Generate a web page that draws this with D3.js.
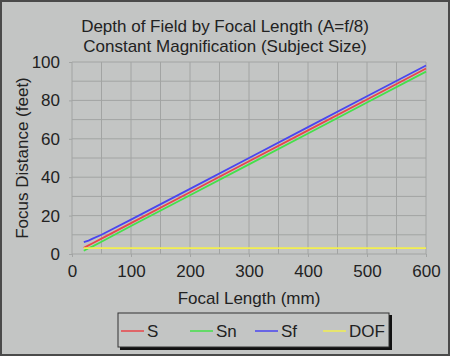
<!DOCTYPE html>
<html><head><meta charset="utf-8">
<script src="https://cdn.jsdelivr.net/npm/d3@7"></script>
<style>html,body{margin:0;padding:0;background:#c3c5c4;}svg{display:block;}</style>
</head><body>
<script>
const focal = [20, 28, 35, 50, 100, 200, 300, 400, 500, 600];
const S   = [3.2, 4.5, 5.6, 8.0, 16.1, 32.2, 48.3, 64.4, 80.5, 96.6];
const Sn  = [1.7, 3.0, 4.0, 6.4, 14.6, 30.6, 46.7, 62.8, 78.9, 95.0];
const Sf  = [6.2, 7.0, 8.0, 10.0, 17.9, 33.9, 50.0, 66.1, 82.2, 98.2];
const DOF = [3.1, 3.1, 3.1, 3.1, 3.1, 3.1, 3.1, 3.1, 3.1, 3.1];
const seriesNames = ["S", "Sn", "Sf", "DOF"];
const seriesColors = ["#e8454a", "#45e04a", "#4a45f0", "#f2ee50"];
const xTicks = [0, 100, 200, 300, 400, 500, 600];
const yTicks = [0, 20, 40, 60, 80, 100];
const titleLines = ["Depth of Field by Focal Length (A=f/8)", "Constant Magnification (Subject Size)"];

const W = 450, H = 356;
const font = "'Liberation Sans', Arial, sans-serif";
const svg = d3.select("body").append("svg").attr("width", W).attr("height", H);
svg.append("rect").attr("x",1).attr("y",1).attr("width",W-2).attr("height",H-2)
  .attr("fill","#c3c5c4").attr("stroke","#4a4a4a").attr("stroke-width",2);

const x = d3.scaleLinear().domain([0,600]).range([72,426]);
const y = d3.scaleLinear().domain([0,100]).range([254,62]);

// grid
const g = svg.append("g");
g.selectAll(".vg").data(d3.range(0,601,50)).join("line")
  .attr("x1",d=>x(d)).attr("x2",d=>x(d)).attr("y1",y(100)).attr("y2",y(0))
  .attr("stroke","#a2a4a3").attr("stroke-width",1);
g.selectAll(".hg").data(d3.range(0,101,10)).join("line")
  .attr("x1",x(0)).attr("x2",x(600)).attr("y1",d=>y(d)).attr("y2",d=>y(d))
  .attr("stroke","#a2a4a3").attr("stroke-width",1);

// axes
const xAxis = d3.axisBottom(x).tickValues(xTicks).tickSize(3).tickPadding(8);
const ya = d3.axisLeft(y).tickValues(yTicks).tickSize(3).tickPadding(9);
const gx = svg.append("g").attr("transform",`translate(0,${y(0)})`).call(xAxis);
const gy = svg.append("g").attr("transform",`translate(${x(0)},0)`).call(ya);
[gx,gy].forEach(a=>{
  a.select(".domain").remove();
  a.selectAll("line").attr("stroke","#a2a4a3");
  a.selectAll("text").attr("font-family",font).attr("font-size",17).attr("fill","#222");
});

// lines
const series = [S, Sn, Sf, DOF];
const line = d3.line().x((d,i)=>x(focal[i])).y(d=>y(d));
series.forEach((s,k)=>{
  svg.append("path").datum(s).attr("d",line).attr("fill","none")
    .attr("stroke",seriesColors[k]).attr("stroke-width",1.8);
});

// title
svg.selectAll(".title").data(titleLines).join("text")
  .attr("x",225).attr("y",(d,i)=>32+i*19.5).attr("text-anchor","middle")
  .attr("font-family",font).attr("font-size",17).attr("fill","#222").text(d=>d);

// axis labels
svg.append("text").attr("x",249).attr("y",304).attr("text-anchor","middle")
  .attr("font-family",font).attr("font-size",17).attr("fill","#222").text("Focal Length (mm)");
svg.append("text").attr("transform","translate(28,158) rotate(-90)").attr("text-anchor","middle")
  .attr("font-family",font).attr("font-size",17).attr("fill","#222").text("Focus Distance (feet)");

// legend
const lg = svg.append("g");
lg.append("rect").attr("x",120).attr("y",315).attr("width",272).attr("height",35).attr("fill","#111");
lg.append("rect").attr("x",118).attr("y",313).attr("width",271).attr("height",34)
  .attr("fill","#c3c5c4").attr("stroke","#333").attr("stroke-width",1);
const lx = [121, 190, 255, 323];
seriesNames.forEach((n,k)=>{
  lg.append("line").attr("x1",lx[k]).attr("x2",lx[k]+23).attr("y1",331).attr("y2",331)
    .attr("stroke",seriesColors[k]).attr("stroke-width",1.5);
  lg.append("text").attr("x",lx[k]+26).attr("y",337).attr("font-family",font)
    .attr("font-size",17).attr("fill","#222").text(n);
});
</script>
</body></html>
